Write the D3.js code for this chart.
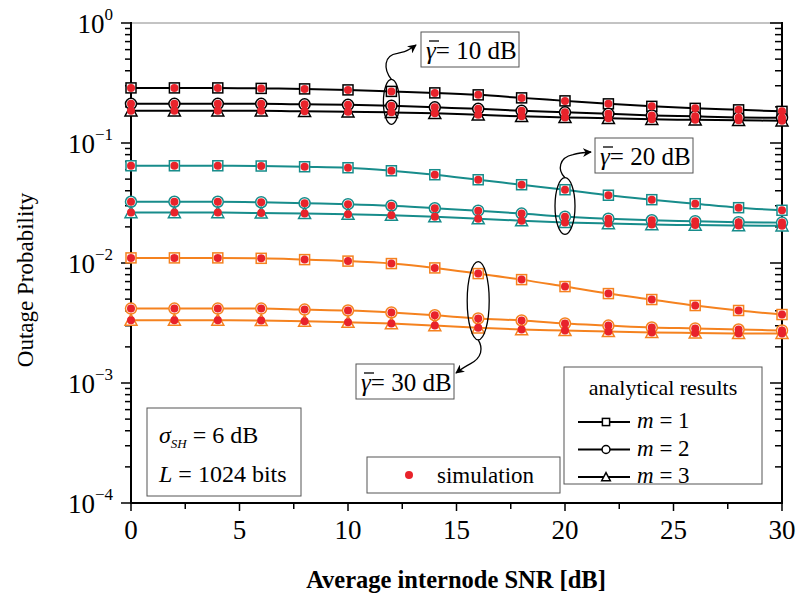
<!DOCTYPE html>
<html>
  <head>
    <meta charset="utf-8">
    <title>Outage Probability</title>
    <script src="https://d3js.org/d3.v7.min.js"></script>
  </head>
  <style>
    body { margin: 0; background: #fff; }
    svg { font-family: "Liberation Serif", "Times New Roman", serif; }
    .curve { fill: none; stroke-width: 2; }
    .box { fill: #fff; stroke: #555; stroke-width: 1; }
  </style>
  <body>
    <script type="text/javascript">
        var width = 798;
        var height = 601;

        // average internode SNR [dB]
        const snr = [0, 2, 4, 6, 8, 10, 12, 14, 16, 18, 20, 22, 24, 26, 28, 30];

        // gamma = 10 dB
        const g10m1 = [0.2878, 0.2878, 0.2878, 0.2851, 0.2824, 0.2770, 0.2692, 0.2616, 0.2518, 0.2377, 0.2244, 0.2119, 0.2020, 0.1944, 0.1889, 0.1835];
        const g10m2 = [0.2119, 0.2119, 0.2119, 0.2119, 0.2099, 0.2079, 0.2040, 0.1981, 0.1925, 0.1853, 0.1800, 0.1749, 0.1699, 0.1667, 0.1635, 0.1620];
        const g10m3 = [0.1853, 0.1853, 0.1853, 0.1853, 0.1835, 0.1818, 0.1800, 0.1767, 0.1716, 0.1667, 0.1635, 0.1605, 0.1575, 0.1560, 0.1545, 0.1530];
        // gamma = 20 dB
        const g20m1 = [0.0646, 0.0646, 0.0646, 0.0643, 0.0634, 0.0622, 0.0587, 0.0544, 0.0494, 0.0449, 0.0408, 0.0367, 0.0337, 0.0312, 0.0289, 0.0275];
        const g20m2 = [0.0324, 0.0324, 0.0324, 0.0321, 0.0315, 0.0309, 0.0300, 0.0286, 0.0273, 0.0258, 0.0243, 0.0234, 0.0227, 0.0223, 0.0219, 0.0217];
        const g20m3 = [0.0263, 0.0263, 0.0263, 0.0261, 0.0259, 0.0255, 0.0250, 0.0243, 0.0234, 0.0225, 0.0218, 0.0213, 0.0209, 0.0207, 0.0205, 0.0204];
        // gamma = 30 dB
        const g30m1 = [0.01103, 0.01103, 0.01103, 0.01094, 0.01067, 0.01037, 0.00989, 0.00910, 0.00816, 0.00727, 0.00636, 0.00556, 0.00496, 0.00442, 0.00402, 0.00372];
        const g30m2 = [0.00417, 0.00417, 0.00417, 0.00417, 0.00409, 0.00402, 0.00387, 0.00367, 0.00345, 0.00332, 0.00313, 0.00301, 0.00290, 0.00285, 0.00279, 0.00274];
        const g30m3 = [0.00334, 0.00334, 0.00334, 0.00332, 0.00327, 0.00321, 0.00313, 0.00301, 0.00288, 0.00279, 0.00274, 0.00269, 0.00264, 0.00261, 0.00259, 0.00259];

        const xTicks = [0, 5, 10, 15, 20, 25, 30];
        const yExps = [0, -1, -2, -3, -4];

        const series = [
          {vals: g10m1, m: 1, color: '#000'}, {vals: g10m2, m: 2, color: '#000'}, {vals: g10m3, m: 3, color: '#000'},
          {vals: g20m1, m: 1, color: '#178c8b'}, {vals: g20m2, m: 2, color: '#178c8b'}, {vals: g20m3, m: 3, color: '#178c8b'},
          {vals: g30m1, m: 1, color: '#f5821f'}, {vals: g30m2, m: 2, color: '#f5821f'}, {vals: g30m3, m: 3, color: '#f5821f'}
        ];

        const svg = d3.select('body').append('svg').attr('width', width).attr('height', height);
        const x = d3.scaleLinear().domain([0, 30]).range([131, 782]);
        const y = d3.scaleLog().domain([1e-4, 1]).range([503, 23]);

        // frame
        svg.append('line').attr('x1', x(0)).attr('x2', x(30)).attr('y1', y(1)).attr('y2', y(1)).attr('stroke', '#888').attr('stroke-width', 1);

        // minor/major y ticks
        const minorY = [];
        for (let e = -4; e < 0; e++) for (let k = 2; k <= 9; k++) minorY.push(k * Math.pow(10, e));
        const gAx = svg.append('g').attr('stroke', '#000').attr('stroke-width', 1.5);
        minorY.forEach(v => {
          gAx.append('line').attr('x1', x(0) - 6).attr('x2', x(0)).attr('y1', y(v)).attr('y2', y(v));
          gAx.append('line').attr('x1', x(30) - 7).attr('x2', x(30)).attr('y1', y(v)).attr('y2', y(v));
        });
        yExps.forEach(e => {
          const v = Math.pow(10, e);
          gAx.append('line').attr('x1', x(0) - 10).attr('x2', x(0)).attr('y1', y(v)).attr('y2', y(v));
          gAx.append('line').attr('x1', x(30) - 12).attr('x2', x(30)).attr('y1', y(v)).attr('y2', y(v));
        });
        for (let t = 0; t <= 30; t += 2.5) {
          const len = (t % 5 === 0) ? 8 : 6;
          gAx.append('line').attr('x1', x(t)).attr('x2', x(t)).attr('y1', y(1e-4)).attr('y2', y(1e-4) + len);
        }
        svg.append('line').attr('x1', x(0)).attr('x2', x(0)).attr('y1', y(1) - 1).attr('y2', y(1e-4) + 1).attr('stroke', '#000').attr('stroke-width', 2);
        svg.append('line').attr('x1', x(30)).attr('x2', x(30)).attr('y1', y(1) - 1).attr('y2', y(1e-4) + 1).attr('stroke', '#000').attr('stroke-width', 2);
        svg.append('line').attr('x1', x(0)).attr('x2', x(30)).attr('y1', y(1e-4)).attr('y2', y(1e-4)).attr('stroke', '#000').attr('stroke-width', 2);

        // tick labels
        yExps.forEach(e => {
          const t = svg.append('text').attr('x', 113).attr('y', y(Math.pow(10, e)) + 10)
            .attr('text-anchor', 'end').attr('font-size', 27);
          t.append('tspan').text('10');
          t.append('tspan').attr('dy', -13).attr('font-size', 17).text(e === 0 ? '0' : '\u2212' + (-e));
        });
        svg.selectAll('.xtl').data(xTicks).enter().append('text')
          .attr('x', d => x(d)).attr('y', 539).attr('text-anchor', 'middle').attr('font-size', 27).text(d => d);

        svg.append('text').attr('x', 456).attr('y', 588).attr('text-anchor', 'middle')
          .attr('font-size', 24.5).attr('font-weight', 'bold').text('Average internode SNR [dB]');
        svg.append('text').attr('transform', 'translate(33,280) rotate(-90)').attr('text-anchor', 'middle')
          .attr('font-size', 23).text('Outage Probability');

        // curves
        const line = d3.line().x((d, i) => x(snr[i])).y(d => y(d)).curve(d3.curveMonotoneX);
        const gPlot = svg.append('g');
        series.forEach(s => {
          gPlot.append('path').attr('class', 'curve').attr('stroke', s.color).attr('d', line(s.vals));
        });

        function marker(g, m, cx, cy, color, sz) {
          if (m === 1) {
            g.append('rect').attr('x', cx - sz).attr('y', cy - sz).attr('width', 2 * sz).attr('height', 2 * sz)
              .attr('fill', '#fff').attr('stroke', color).attr('stroke-width', 1.5);
          } else if (m === 2) {
            g.append('circle').attr('cx', cx).attr('cy', cy).attr('r', sz * 1.1)
              .attr('fill', '#fff').attr('stroke', color).attr('stroke-width', 1.5);
          } else {
            const h = sz * 1.2;
            g.append('path').attr('d', `M${cx},${cy - h}L${cx + h},${cy + h * 0.85}L${cx - h},${cy + h * 0.85}Z`)
              .attr('fill', '#fff').attr('stroke', color).attr('stroke-width', 1.5);
          }
        }
        series.forEach(s => {
          s.vals.forEach((v, i) => marker(gPlot, s.m, x(snr[i]), y(v), s.color, 5));
        });
        // simulation points
        series.forEach(s => {
          gPlot.selectAll(null).data(s.vals).enter().append('circle')
            .attr('cx', (d, i) => x(snr[i])).attr('cy', d => y(d)).attr('r', 4).attr('fill', '#e8232b');
        });

        // annotations
        svg.append('defs').append('marker').attr('id', 'arr').attr('viewBox', '0 0 10 10')
          .attr('refX', 9).attr('refY', 5).attr('markerWidth', 9).attr('markerHeight', 9)
          .attr('markerUnits', 'userSpaceOnUse').attr('orient', 'auto')
          .append('path').attr('d', 'M0,0L10,5L0,10L3,5Z').attr('fill', '#000');

        function gammaBox(bx, by, label) {
          svg.append('rect').attr('class', 'box').attr('x', bx).attr('y', by).attr('width', 98).attr('height', 35);
          const t = svg.append('text').attr('x', bx + 5).attr('y', by + 27).attr('font-size', 25);
          t.append('tspan').attr('font-style', 'italic').text('\u03b3');
          t.append('tspan').text('= ' + label + ' dB');
          svg.append('line').attr('x1', bx + 8).attr('x2', bx + 18).attr('y1', by + 9).attr('y2', by + 9)
            .attr('stroke', '#000').attr('stroke-width', 1.3);
        }
        function ellipse(xv, vTop, vBot, rx) {
          const cy = (y(vTop) + y(vBot)) / 2;
          const ry = (y(vBot) - y(vTop)) / 2 + 12;
          svg.append('ellipse').attr('cx', x(xv)).attr('cy', cy).attr('rx', rx).attr('ry', ry)
            .attr('fill', 'none').attr('stroke', '#000').attr('stroke-width', 1.3);
          return {cx: x(xv), top: cy - ry, bot: cy + ry};
        }
        const arrowStyle = p => p.attr('fill', 'none').attr('stroke', '#000').attr('stroke-width', 1.3).attr('marker-end', 'url(#arr)');

        gammaBox(421, 32, '10');
        const e1 = ellipse(12, g10m1[6], g10m3[6], 8);
        arrowStyle(svg.append('path').attr('d', `M${e1.cx},${e1.top} C${e1.cx - 8},${e1.top - 10} ${e1.cx - 8},${e1.top - 24} ${e1.cx + 6},${e1.top - 26} L${e1.cx + 10},${e1.top - 27} Q${e1.cx + 16},${e1.top - 28} 416,45`));

        gammaBox(595, 138, '20');
        const e2 = ellipse(20, g20m1[10], g20m3[10], 10);
        arrowStyle(svg.append('path').attr('d', `M${e2.cx},${e2.top} C${e2.cx - 8},${e2.top - 8} ${e2.cx - 6},${e2.top - 20} ${e2.cx + 8},${e2.top - 23} Q${e2.cx + 14},${e2.top - 25} 591,152`));

        gammaBox(356, 364, '30');
        const e3 = ellipse(16, g30m1[8], g30m3[8], 11);
        arrowStyle(svg.append('path').attr('d', `M${e3.cx},${e3.bot} C${e3.cx + 5},${e3.bot + 8} ${e3.cx + 4},${e3.bot + 18} ${e3.cx - 8},${e3.bot + 24} Q${e3.cx - 14},${e3.bot + 27} 456,373`));

        // legend: analytical results
        svg.append('rect').attr('class', 'box').attr('x', 564).attr('y', 367).attr('width', 198).attr('height', 117);
        svg.append('text').attr('x', 663).attr('y', 395).attr('text-anchor', 'middle').attr('font-size', 22).text('analytical results');
        [1, 2, 3].forEach((m, i) => {
          const ly = 422 + i * 27.5;
          svg.append('line').attr('x1', 578).attr('x2', 630).attr('y1', ly).attr('y2', ly).attr('stroke', '#000').attr('stroke-width', 2);
          marker(svg, m, 606, ly, '#000', 3.6);
          const t = svg.append('text').attr('x', 637).attr('y', ly + 6).attr('font-size', 23);
          t.append('tspan').attr('font-style', 'italic').text('m');
          t.append('tspan').text(' = ' + m);
        });

        // parameters box
        svg.append('rect').attr('class', 'box').attr('x', 147).attr('y', 408).attr('width', 154).attr('height', 88);
        const p1 = svg.append('text').attr('x', 159).attr('y', 443).attr('font-size', 24);
        p1.append('tspan').attr('font-style', 'italic').text('\u03c3');
        p1.append('tspan').attr('font-style', 'italic').attr('font-size', 13).attr('dy', 5).text('SH');
        p1.append('tspan').attr('dy', -5).text(' = 6 dB');
        const p2 = svg.append('text').attr('x', 159).attr('y', 482).attr('font-size', 24);
        p2.append('tspan').attr('font-style', 'italic').text('L');
        p2.append('tspan').text(' = 1024 bits');

        // simulation legend
        svg.append('rect').attr('class', 'box').attr('x', 367).attr('y', 457).attr('width', 193).attr('height', 36);
        svg.append('circle').attr('cx', 409).attr('cy', 475).attr('r', 4).attr('fill', '#e8232b');
        svg.append('text').attr('x', 437).attr('y', 483).attr('font-size', 23).text('simulation');
      </script>
  </body>
</html>
